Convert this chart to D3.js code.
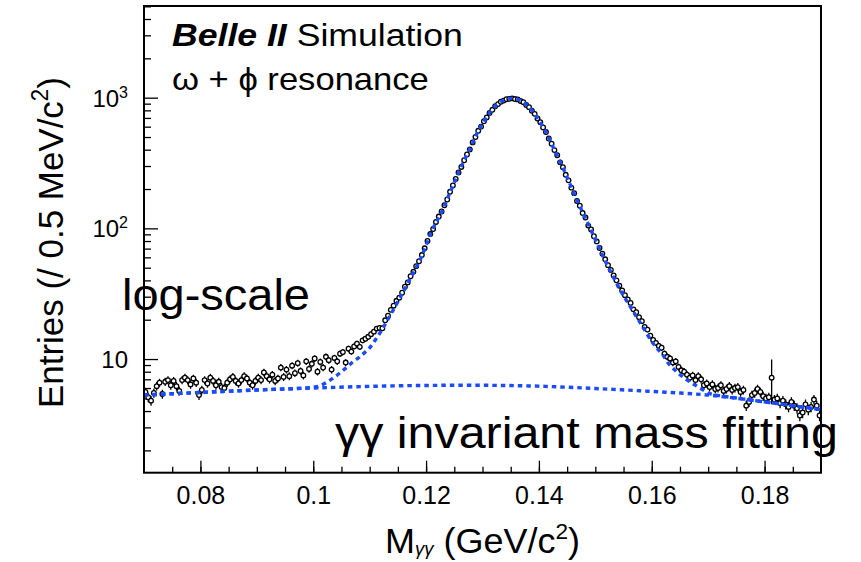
<!DOCTYPE html>
<html><head><meta charset="utf-8">
<script src="https://cdn.jsdelivr.net/npm/d3@7"></script>
<style>
body{margin:0;background:#fff}
svg{display:block}
text{font-family:"Liberation Sans",Arial,Helvetica,sans-serif;fill:#000}
</style>
</head><body>
<svg id="chart" width="861" height="562"></svg>
<script>
// ---------- data ----------
const binStart = 0.070;      // GeV/c^2, lower edge of first bin
const binWidth = 0.0005;     // 0.5 MeV bins
const counts = [
 5.6,5.1,4.8,5.5,6.2,6.6,5.4,6.7,6.9,6.3,
 6.8,6.2,5.7,6.9,7.2,6.9,6.4,7.1,6.6,5.3,
 5.8,6.9,6.5,7.2,6.8,6.3,6.7,6.1,6.0,6.6,
 7.0,7.3,6.8,6.5,6.9,7.4,7.1,6.6,6.3,6.8,
 7.2,6.9,7.9,7.4,7.0,7.6,6.8,7.1,8.6,7.3,
 8.3,7.4,8.9,7.8,9.3,8.1,7.5,9.6,8.4,9.2,
 10.1,8.0,9.5,8.6,10.4,9.8,8.3,10.2,9.6,11.0,
 11.3,9.4,12.0,11.4,12.5,13.1,12.4,13.9,14.3,14.8,
 15.5,16.2,17.1,17.3,17.2,19.8,21.5,23.8,25.6,27.9,
 29.5,32.2,35.8,38.6,43.0,46.5,51.4,56.0,62.5,70.4,
 80.1,90.5,98.8,112.0,123.1,134.9,150.2,166.3,190.5,213.0,
 239,268,295,332,368,402,455,500,558,601,
 660,705,765,808,860,893,931,950,974,980,
 988,976,970,944,923,880,846,795,752,693,
 649,592,546,487,445,397,363,320,294,257,
 233,205,186,162,149,131,121,105,98,87,
 79.5,70.8,64.1,58.0,52.3,48.1,43.6,40.0,36.4,33.5,
 30.8,28.6,26.9,24.0,22.8,20.9,19.5,17.6,16.8,15.1,
 14.0,13.3,12.6,12.2,11.0,10.4,10.1,9.4,9.6,8.7,
 8.2,8.0,7.6,7.2,7.5,6.9,7.4,7.0,6.3,6.5,
 6.1,6.4,5.9,6.0,6.3,5.7,5.9,6.2,5.8,6.0,
 6.1,5.6,5.8,4.4,4.7,5.3,5.5,5.9,5.6,5.2,
 5.0,5.1,7.2,4.9,5.0,4.6,4.8,4.5,4.3,4.7,
 4.4,4.2,3.7,3.9,4.5,4.1,4.3,4.9,4.4,3.7
];
const eventWeight = 0.035;          // per-event weight of the simulated sample
const largeErrBins = [222];
const largeErrValues = [2.7];

// total fit (signal + background), 1 MeV sampling
const fitMass = [
 0.070,0.071,0.072,0.073,0.074,0.075,0.076,0.077,0.078,0.079,
 0.080,0.081,0.082,0.083,0.084,0.085,0.086,0.087,0.088,0.089,
 0.090,0.091,0.092,0.093,0.094,0.095,0.096,0.097,0.098,0.099,
 0.100,0.101,0.102,0.103,0.104,0.105,0.106,0.107,0.108,0.109,
 0.110,0.111,0.112,0.113,0.114,0.115,0.116,0.117,0.118,0.119,
 0.120,0.121,0.122,0.123,0.124,0.125,0.126,0.127,0.128,0.129,
 0.130,0.131,0.132,0.133,0.134,0.135,0.136,0.137,0.138,0.139,
 0.140,0.141,0.142,0.143,0.144,0.145,0.146,0.147,0.148,0.149,
 0.150,0.151,0.152,0.153,0.154,0.155,0.156,0.157,0.158,0.159,
 0.160,0.161,0.162,0.163,0.164,0.165,0.166,0.167,0.168,0.169,
 0.170,0.171,0.172,0.173,0.174,0.175,0.176,0.177,0.178,0.179,
 0.180,0.181,0.182,0.183,0.184,0.185,0.186,0.187,0.188,0.189,0.190
];
const fitTotal = [
 5.30,5.33,5.35,5.38,5.40,5.43,5.45,5.48,5.50,5.53,
 5.55,5.58,5.60,5.63,5.65,5.68,5.70,5.72,5.75,5.78,
 5.80,5.82,5.84,5.86,5.88,5.90,5.92,5.95,5.98,6.02,
 6.08,6.20,6.50,6.90,7.40,8.00,8.70,9.50,10.2,11.1,
 12.2,14.0,16.3,19.3,23.0,27.5,33.0,40.0,48.0,58.0,
 74.0,95.0,116,140,178,224,282,347,427,531,
 631,738,836,916,966,988,977,938,867,776,
 673,571,466,378,308,245,195,155,126,102,
 82.0,66.0,53.5,44.0,36.5,30.5,26.0,22.1,18.8,16.0,
 13.6,12.0,10.7,9.20,8.30,7.60,7.05,6.60,6.20,5.85,
 5.50,5.33,5.25,5.17,5.10,5.03,4.96,4.90,4.83,4.77,
 4.70,4.64,4.58,4.52,4.46,4.40,4.34,4.28,4.22,4.16,4.10
];
// background component
const bgMass   = [0.070,0.080,0.090,0.100,0.110,0.120,0.130,0.140,0.150,0.160,0.170,0.180,0.190];
const bgValues = [5.30,5.55,5.80,6.00,6.18,6.28,6.30,6.20,5.95,5.65,5.30,4.70,4.10];

const xMajorTicks = [0.08,0.10,0.12,0.14,0.16,0.18];
const xTickLabels = ["0.08","0.1","0.12","0.14","0.16","0.18"];
const yMajorTicks = [10,100,1000];
const yTickBase = ["10","10","10"];
const yTickExp  = ["","2","3"];

// ---------- layout ----------
const L = 144, R = 821, T = 6, B = 472.7;
const svg = d3.select("#chart");
const x = d3.scaleLinear().domain([0.07,0.19]).range([L,R]);
const y = d3.scaleLog().domain([1.35,5030]).range([B,T]);
const blue = "#1a4bff";

svg.append("clipPath").attr("id","plotclip")
  .append("rect").attr("x",L).attr("y",T).attr("width",R-L).attr("height",B-T);

// axes: x
svg.append("g").attr("transform",`translate(0,${B})`)
  .call(d3.axisBottom(x).tickValues(d3.range(0.075,0.1899,0.005)).tickSize(-6).tickFormat(""))
  .call(g=>{g.select(".domain").remove(); g.selectAll("line").attr("stroke","#000").attr("stroke-width",1.3);});
svg.append("g").attr("transform",`translate(0,${B})`)
  .call(d3.axisBottom(x).tickValues(xMajorTicks).tickSize(-12).tickPadding(14)
        .tickFormat((d,i)=>xTickLabels[i]))
  .call(g=>{g.select(".domain").remove();
            g.selectAll("line").attr("stroke","#000").attr("stroke-width",1.3);
            g.selectAll("text").attr("font-size",25).attr("fill","#000")
             .attr("font-family","Liberation Sans, Arial, sans-serif");});

// axes: y
const yMinor = [];
[1,10,100,1000].forEach(dec=>{for(let k=2;k<=9;k++){const v=dec*k; if(v>1.35 && v<=5030) yMinor.push(v);}});
svg.append("g").attr("transform",`translate(${L},0)`)
  .call(d3.axisLeft(y).tickValues(yMinor).tickSize(-7).tickFormat(""))
  .call(g=>{g.select(".domain").remove(); g.selectAll("line").attr("stroke","#000").attr("stroke-width",1.3);});
const yax = svg.append("g").attr("transform",`translate(${L},0)`)
  .call(d3.axisLeft(y).tickValues(yMajorTicks).tickSize(-14).tickPadding(16).tickFormat(""))
  .call(g=>{g.select(".domain").remove(); g.selectAll("line").attr("stroke","#000").attr("stroke-width",1.3);});
yax.selectAll(".tick text").each(function(d,i){
  const t=d3.select(this).attr("font-size",24).attr("dy","0.35em").attr("x",-16).attr("text-anchor","end")
    .attr("font-family","Liberation Sans, Arial, sans-serif");
  t.append("tspan").text(yTickBase[i]);
  if(yTickExp[i]) t.append("tspan").attr("font-size",16).attr("dy","-0.55em").text(yTickExp[i]);
});

// data: error bars + open circles
const bins = counts.map((v,i)=>{
  const m = binStart + binWidth*(i+0.5);
  const j = largeErrBins.indexOf(i);
  const e = j>=0 ? largeErrValues[j] : Math.sqrt(v*eventWeight);
  return {m, v, e};
});
const gData = svg.append("g").attr("clip-path","url(#plotclip)");
gData.selectAll("line.err").data(bins).join("line").attr("class","err")
  .attr("x1",d=>x(d.m)).attr("x2",d=>x(d.m))
  .attr("y1",d=>y(d.v+d.e)).attr("y2",d=>y(Math.max(d.v-d.e,1.4)))
  .attr("stroke","#000").attr("stroke-width",1.3);
gData.selectAll("circle").data(bins).join("circle")
  .attr("cx",d=>x(d.m)).attr("cy",d=>y(d.v)).attr("r",2.3)
  .attr("fill","#fff").attr("stroke","#000").attr("stroke-width",1.3);

// fit curves
const line = d3.line().x(d=>x(d[0])).y(d=>y(d[1])).curve(d3.curveCatmullRom);
const gFit = svg.append("g").attr("clip-path","url(#plotclip)");
gFit.append("path").datum(bgMass.map((m,i)=>[m,bgValues[i]])).attr("d",line)
  .attr("fill","none").attr("stroke",blue).attr("stroke-width",3.4).attr("stroke-dasharray","4.5,4");
gFit.append("path").datum(fitMass.map((m,i)=>[m,fitTotal[i]])).attr("d",line)
  .attr("fill","none").attr("stroke",blue).attr("stroke-width",3.4).attr("stroke-dasharray","4.5,4");

// frame
svg.append("rect").attr("x",L).attr("y",T).attr("width",R-L).attr("height",B-T)
  .attr("fill","none").attr("stroke","#000").attr("stroke-width",2);

// helper to stretch a text to a target width
function fitWidth(sel, x0, target){
  const w = sel.node().getComputedTextLength();
  sel.attr("transform",`translate(${x0},0) scale(${target/w},1) translate(${-x0},0)`);
}

// titles / labels
const t1 = svg.append("text").attr("x",172).attr("y",46).attr("font-size",31);
t1.append("tspan").attr("font-weight","bold").attr("font-style","italic").text("Belle II");
t1.append("tspan").text(" Simulation");
fitWidth(t1,172,291);

const t2 = svg.append("text").attr("x",172).attr("y",90).attr("font-size",31).text("\u03c9 + \u03d5 resonance");
fitWidth(t2,172,257);

const ylab = svg.append("text").attr("transform","translate(63,408) rotate(-90)").attr("font-size",36);
ylab.append("tspan").text("Entries (/ 0.5 MeV/c");
ylab.append("tspan").attr("font-size",23).attr("dy","-0.65em").text("2");
ylab.append("tspan").attr("dy","0.42em").text(")");
{ const w = ylab.node().getComputedTextLength();
  ylab.attr("transform",`translate(63,408) rotate(-90) scale(${331/w},1)`); }

const xlab = svg.append("text").attr("x",385).attr("y",553).attr("font-size",35);
xlab.append("tspan").text("M");
xlab.append("tspan").attr("font-size",18).attr("dy","0.12em").attr("font-style","italic").text("\u03b3\u03b3");
xlab.append("tspan").attr("dy","-0.06em").attr("font-size",35).text(" (GeV/c");
xlab.append("tspan").attr("font-size",22).attr("dy","-0.65em").text("2");
xlab.append("tspan").attr("font-size",35).attr("dy","0.41em").text(")");
fitWidth(xlab,385,195);

const a1 = svg.append("text").attr("x",122).attr("y",310).attr("font-size",45).text("log-scale");
fitWidth(a1,122,188);
const a2 = svg.append("text").attr("x",335).attr("y",448).attr("font-size",45).text("\u03b3\u03b3 invariant mass fitting");
fitWidth(a2,335,503);
</script>
</body></html>
